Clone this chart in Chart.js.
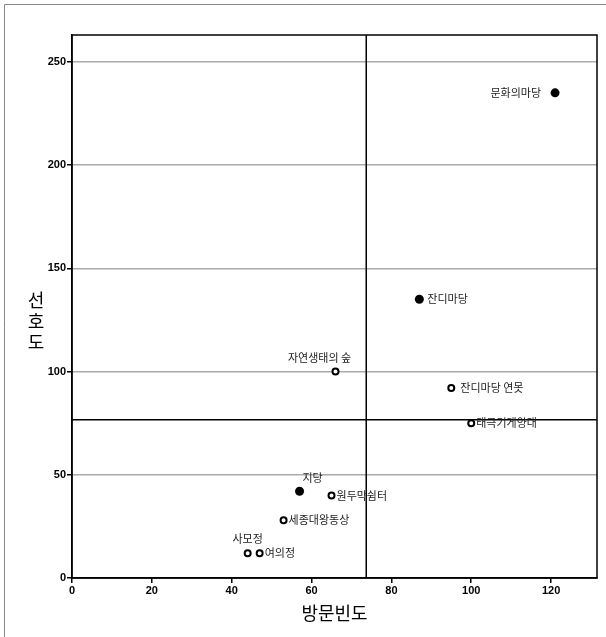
<!DOCTYPE html>
<html>
<head>
<meta charset="utf-8">
<script src="https://cdn.jsdelivr.net/npm/chart.js@4/dist/chart.umd.min.js"></script>
<style>
  html, body { margin: 0; padding: 0; background: #fff; }
  canvas { display: block; }
</style>
</head>
<body>
<canvas id="myChart" width="606" height="637"></canvas>
<script>
// Данные: места, частота посещения (x), предпочтение (y)
const places = ['문화의마당', '잔디마당', '자연생태의 숲', '잔디마당 연못', '태극기게양대', '지당', '원두막쉼터', '세종대왕동상', '사모정', '여의정'];
const visitFreq = [121, 87, 66, 95, 100, 57, 65, 53, 44, 47];
const preference = [235, 135, 100, 92, 75, 42, 40, 28, 12, 12];
const filled = [true, true, false, false, false, true, false, false, false, false];

// Оси и опорные линии
const xMax = 131.5;
const yMax = 263;
const xTicks = [0, 20, 40, 60, 80, 100, 120];
const yTicks = [0, 50, 100, 150, 200, 250];
const refX = 73.7;
const refY = 76.6;

// Где рисовать подпись относительно точки
const labelPos = {
    '문화의마당': 'left',
    '자연생태의 숲': 'above',
    '지당': 'aboveRight',
    '사모정': 'above',
    '잔디마당 연못': 'rightWide'
};

const points = places.map((p, i) => ({ x: visitFreq[i], y: preference[i] }));

// Подписи точек, рамка области и заголовки осей
const decorPlugin = {
    id: 'decor',
    beforeDraw(chart) {
        const c = chart.ctx;
        c.save();
        c.strokeStyle = '#888';
        c.lineWidth = 1;
        c.beginPath();
        c.moveTo(4.5, 637);
        c.lineTo(4.5, 4.5);
        c.lineTo(606, 4.5);
        c.stroke();
        c.restore();
    },
    afterDatasetsDraw(chart) {
        const c = chart.ctx;
        const a = chart.chartArea;
        c.save();
        c.strokeStyle = '#000';
        c.lineWidth = 1.5;
        c.strokeRect(a.left, a.top, a.right - a.left, a.bottom - a.top);

        const meta = chart.getDatasetMeta(0);
        c.font = '11px "Noto Sans CJK KR", sans-serif';
        c.fillStyle = '#222';
        c.textBaseline = 'middle';
        meta.data.forEach((el, i) => {
            const name = places[i];
            const pos = labelPos[name] || 'right';
            if (pos === 'left') {
                c.textAlign = 'right';
                c.fillText(name, el.x - 14, el.y);
            } else if (pos === 'above') {
                c.textAlign = 'center';
                c.fillText(name, el.x - (name.length > 4 ? 16 : 0), el.y - 14);
            } else if (pos === 'aboveRight') {
                c.textAlign = 'center';
                c.fillText(name, el.x + 13, el.y - 13);
            } else if (pos === 'rightWide') {
                c.textAlign = 'left';
                c.fillText(name, el.x + 9, el.y);
            } else {
                c.textAlign = 'left';
                c.fillText(name, el.x + (filled[i] ? 8 : 5), el.y);
            }
        });

        // заголовки осей
        c.fillStyle = '#000';
        c.font = '18px "Noto Sans CJK KR", sans-serif';
        c.textAlign = 'center';
        c.fillText('방문빈도', (a.left + a.right) / 2, 613);
        const yTitle = '선호도';
        const cy = (a.top + a.bottom) / 2 + 15;
        for (let k = 0; k < yTitle.length; k++) {
            c.fillText(yTitle[k], 36, cy + (k - 1) * 21);
        }
        c.restore();
    }
};

const ctx = document.getElementById('myChart').getContext('2d');
const myChart = new Chart(ctx, {
    type: 'scatter',
    data: {
        datasets: [{
            label: '',
            data: points,
            backgroundColor: filled.map(f => f ? '#000' : '#fff'),
            borderColor: '#000',
            borderWidth: filled.map(f => f ? 0 : 2),
            pointRadius: filled.map(f => f ? 4.5 : 3),
            order: 0
        }, {
            type: 'line',
            data: [{ x: refX, y: 0 }, { x: refX, y: yMax }],
            showLine: true,
            borderColor: '#000',
            borderWidth: 1.5,
            pointRadius: 0,
            order: 1
        }, {
            type: 'line',
            data: [{ x: 0, y: refY }, { x: xMax, y: refY }],
            showLine: true,
            borderColor: '#000',
            borderWidth: 1.5,
            pointRadius: 0,
            order: 1
        }]
    },
    options: {
        responsive: false,
        animation: false,
        layout: { padding: { top: 35, right: 9, left: 0, bottom: 0 } },
        plugins: {
            legend: { display: false },
            tooltip: { enabled: false }
        },
        scales: {
            x: {
                type: 'linear',
                min: 0,
                max: xMax,
                afterBuildTicks: axis => { axis.ticks = xTicks.map(v => ({ value: v })); },
                afterFit: axis => { axis.height = 59; },
                ticks: {
                    color: '#000',
                    font: { family: 'Liberation Sans, Arial', size: 11, weight: 'bold' },
                    padding: 1,
                    maxRotation: 0
                },
                grid: {
                    drawOnChartArea: false,
                    tickLength: 5,
                    tickColor: '#000',
                    lineWidth: 1.5
                },
                border: { color: '#000', width: 1.5 }
            },
            y: {
                type: 'linear',
                min: 0,
                max: yMax,
                afterBuildTicks: axis => { axis.ticks = yTicks.map(v => ({ value: v })); },
                afterFit: axis => { axis.width = 72; },
                ticks: {
                    color: '#000',
                    font: { family: 'Liberation Sans, Arial', size: 11, weight: 'bold' },
                    padding: 1
                },
                grid: {
                    color: '#aaa',
                    lineWidth: 1.5,
                    tickLength: 5,
                    tickColor: '#000'
                },
                border: { color: '#000', width: 1.5 }
            }
        }
    },
    plugins: [decorPlugin]
});
</script>
</body>
</html>
